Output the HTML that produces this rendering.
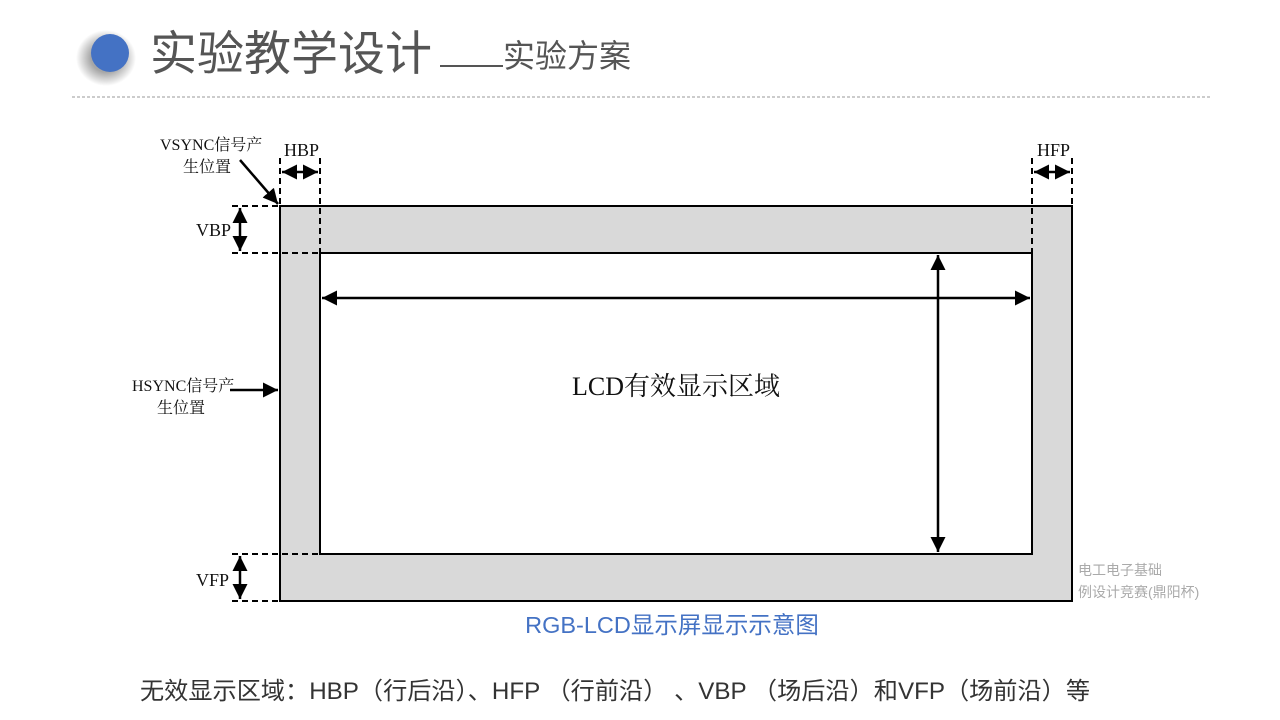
<!DOCTYPE html>
<html><head><meta charset="utf-8"><style>
body{margin:0;width:1280px;height:720px;background:#fff;overflow:hidden;position:relative;font-family:"Liberation Sans","Noto Sans CJK SC",sans-serif}
</style></head><body>
<svg width="1280" height="720" style="position:absolute;left:0;top:0">
<defs>
<marker id="a" viewBox="0 0 10 10" refX="10" refY="5" markerWidth="6" markerHeight="6" orient="auto-start-reverse"><path d="M0,0L10,5L0,10z" fill="#000"/></marker>
<radialGradient id="sh" cx="0.5" cy="0.5" r="0.5"><stop offset="0.5" stop-color="#000" stop-opacity="0.35"/><stop offset="1" stop-color="#000" stop-opacity="0"/></radialGradient>
</defs>
<ellipse cx="106" cy="58" rx="30" ry="28" fill="url(#sh)"/>
<circle cx="110" cy="53" r="19" fill="#4472c4"/>
<text x="150" y="70" font-size="47" fill="#555" font-family="Liberation Sans,Noto Sans CJK SC,sans-serif">实验教学设计</text>
<line x1="440" y1="66" x2="503" y2="66" stroke="#555" stroke-width="2"/>
<text x="503" y="67" font-size="32" fill="#555" font-family="Liberation Sans,Noto Sans CJK SC,sans-serif">实验方案</text>
<line x1="72" y1="97" x2="1210" y2="97" stroke="#999" stroke-dasharray="3,2"/>
<g font-family="Liberation Serif,Noto Serif CJK SC,serif" fill="#111">
<rect x="280" y="206" width="792" height="395" fill="#d9d9d9" stroke="#000" stroke-width="2"/>
<rect x="320" y="253" width="712" height="301" fill="#fff" stroke="#000" stroke-width="2"/>
<g stroke="#000" stroke-width="2" stroke-dasharray="6,4">
<line x1="280" y1="158" x2="280" y2="206"/><line x1="320" y1="158" x2="320" y2="253"/>
<line x1="1032" y1="158" x2="1032" y2="253"/><line x1="1072" y1="158" x2="1072" y2="206"/>
<line x1="232" y1="206" x2="280" y2="206"/><line x1="232" y1="253" x2="320" y2="253"/>
<line x1="232" y1="554" x2="320" y2="554"/><line x1="232" y1="601" x2="280" y2="601"/>
</g>
<g stroke="#000" stroke-width="2.5" marker-start="url(#a)" marker-end="url(#a)">
<line x1="282" y1="172" x2="318" y2="172"/><line x1="1034" y1="172" x2="1070" y2="172"/>
<line x1="240" y1="208" x2="240" y2="251"/><line x1="240" y1="556" x2="240" y2="599"/>
<line x1="322" y1="298" x2="1030" y2="298"/><line x1="938" y1="255" x2="938" y2="552"/>
</g>
<line x1="240" y1="160" x2="278" y2="204" stroke="#000" stroke-width="2.5" marker-end="url(#a)"/>
<line x1="230" y1="390" x2="278" y2="390" stroke="#000" stroke-width="2.5" marker-end="url(#a)"/>
<text x="284" y="156" font-size="18">HBP</text>
<text x="1037" y="156" font-size="18">HFP</text>
<text x="196" y="236" font-size="18">VBP</text>
<text x="196" y="586" font-size="18">VFP</text>
<text x="160" y="150" font-size="16">VSYNC信号产</text>
<text x="183" y="172" font-size="16">生位置</text>
<text x="132" y="391" font-size="16">HSYNC信号产</text>
<text x="157" y="413" font-size="16">生位置</text>
<text x="572" y="395" font-size="26">LCD有效显示区域</text>
</g>
<text x="1078" y="575" font-size="14" fill="#aaa">电工电子基础</text>
<text x="1078" y="597" font-size="14" fill="#aaa">例设计竞赛(鼎阳杯)</text>
<text x="672" y="633" font-size="23.5" fill="#4472c4" text-anchor="middle">RGB-LCD显示屏显示示意图</text>
<text x="140" y="699" font-size="24" fill="#333" textLength="950" lengthAdjust="spacingAndGlyphs">无效显示区域：HBP（行后沿）、HFP （行前沿） 、VBP （场后沿）和VFP（场前沿）等</text>
</svg>
</body></html>
